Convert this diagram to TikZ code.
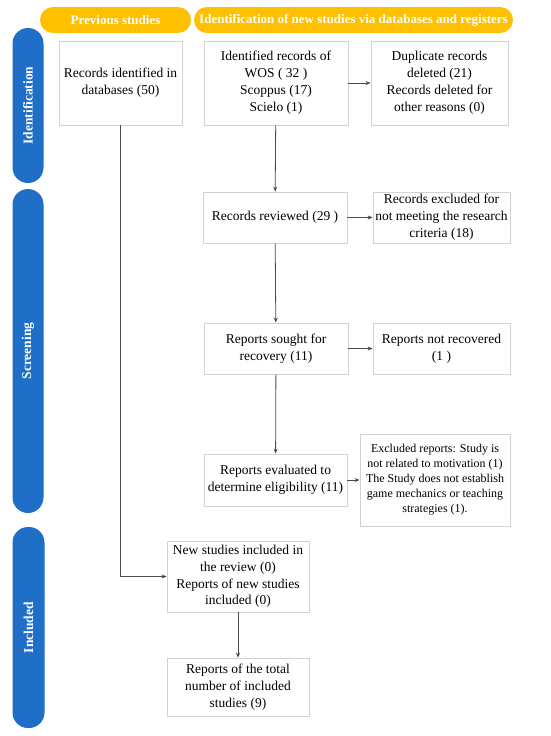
\documentclass[tikz,border=0pt]{standalone}
\usepackage{fontspec}
\setmainfont{Liberation Serif}
\usetikzlibrary{arrows.meta}
\definecolor{hdryellow}{HTML}{FFC000}
\definecolor{pillblue}{HTML}{1F6FC8}
\definecolor{boxgray}{HTML}{D2D2D2}
\definecolor{linegray}{HTML}{4A4A4A}
\tikzset{
  box/.style={draw=boxgray, line width=0.8pt, fill=white, align=center, inner sep=0pt,
    font=\fontsize{13.5}{17}\selectfont},
  header/.style={fill=hdryellow, rounded corners=13pt, inner sep=0pt, minimum height=26pt,
    text=white, font=\fontsize{13}{15}\selectfont\bfseries},
  pill/.style={fill=pillblue, rounded corners=15.5pt, inner sep=0pt, minimum width=31pt,
    text=white, font=\fontsize{13.5}{15}\selectfont\bfseries},
  conn/.style={draw=linegray, line width=0.8pt, -{Stealth[length=5pt,width=4pt]}},
  plain/.style={draw=linegray, line width=0.8pt},
}
\begin{document}
\begin{tikzpicture}[x=1pt,y=-1pt]
\useasboundingbox (0,0) rectangle (550,736);
% headers
\node[header, minimum width=151pt] (h1) at (115.5,20) {Previous studies};
\node[header, minimum width=319pt] (h2) at (353.5,20) {Identification of new studies via databases and registers};
% side pills
\node[pill, minimum height=155pt] (p1) at (28,105.5) {};
\node[rotate=90, text=white, font=\fontsize{13.5}{15}\selectfont\bfseries] (p1t) at (p1.center) {Identification};
\node[pill, minimum height=324pt] (p2) at (28,351) {};
\node[rotate=90, text=white, font=\fontsize{13.5}{15}\selectfont\bfseries] (p2t) at (p2.center) {Screening};
\node[pill, minimum height=201pt, minimum width=32pt] (p3) at (28.5,627.5) {};
\node[rotate=90, text=white, font=\fontsize{13.5}{15}\selectfont\bfseries] (p3t) at (p3.center) {Included};
% boxes
\node[box, minimum width=123pt, minimum height=84pt] (prev) at (120.5,83) {Records identified in\\databases (50)};
\node[box, minimum width=144pt, minimum height=84pt] (ident) at (276,83) {Identified records of\\WOS ( 32 )\\Scoppus (17)\\Scielo (1)};
\node[box, minimum width=137pt, minimum height=84pt] (dup) at (439.5,83) {Duplicate records\\deleted (21)\\Records deleted for\\other reasons (0)};
\node[box, minimum width=144pt, minimum height=51pt] (rev) at (275,217.5) {Records reviewed (29 )};
\node[box, minimum width=137pt, minimum height=51pt] (excl) at (441.5,217.5) {Records excluded for\\not meeting the research\\criteria (18)};
\node[box, minimum width=144pt, minimum height=51pt] (sought) at (276,348.5) {Reports sought for\\recovery (11)};
\node[box, minimum width=137pt, minimum height=51pt] (notrec) at (441.5,348.5) {Reports not recovered\\(1 )};
\node[box, minimum width=143pt, minimum height=52pt] (eval) at (275.5,480) {Reports evaluated to\\determine eligibility (11)};
\node[box, minimum width=150pt, minimum height=92pt, font=\fontsize{12}{15}\selectfont] (excrep) at (435,480) {Excluded reports: Study is\\not related to motivation (1)\\The Study does not establish\\game mechanics or teaching\\strategies (1).};
\node[box, minimum width=142pt, minimum height=71pt, font=\fontsize{13.5}{16.7}\selectfont] (new) at (238,576.5) {New studies included in\\the review (0)\\Reports of new studies\\included (0)};
\node[box, minimum width=142pt, minimum height=58pt, font=\fontsize{13.5}{16.7}\selectfont] (total) at (238,687) {Reports of the total\\number of included\\studies (9)};
% connectors
\draw[conn] (ident) -- (dup);
\draw[conn] (ident) -- (rev);
\draw[conn] (rev) -- (excl);
\draw[conn] (rev) -- (sought);
\draw[conn] (sought) -- (notrec);
\draw[conn] (sought) -- (eval);
\draw[conn] (eval) -- (excrep);
\draw[conn] (prev.south) |- (new.west);
\draw[conn] (new) -- (total);
\end{tikzpicture}
\end{document}
